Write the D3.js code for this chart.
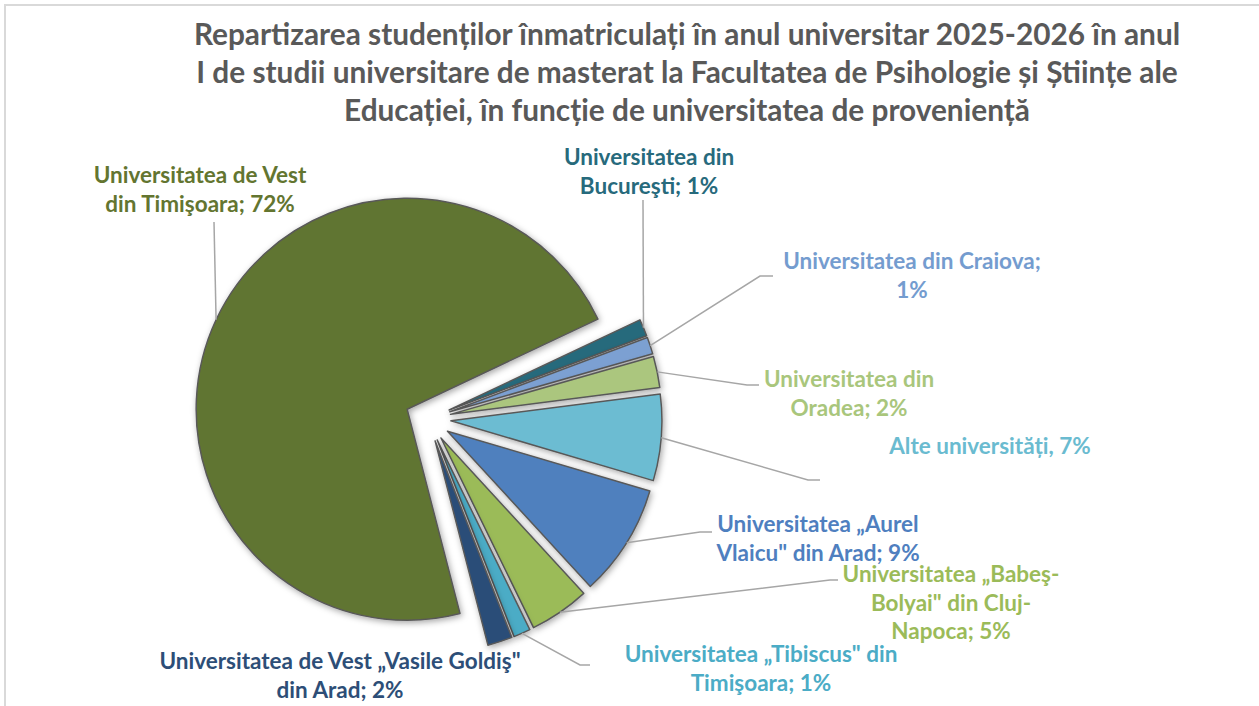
<!DOCTYPE html>
<html>
<head>
<meta charset="utf-8">
<script src="https://cdn.jsdelivr.net/npm/d3@7"></script>
<style>
  body { margin: 0; background: #fff; }
  svg { display: block; }
  text { font-family: Lato, "Open Sans", sans-serif; font-weight: bold; }
</style>
</head>
<body>
<svg width="1259" height="706"></svg>
<script>
// data (shares in %)
var universities = [
  "Universitatea de Vest din Timişoara",
  "Universitatea din Bucureşti",
  "Universitatea din Craiova",
  "Universitatea din Oradea",
  "Alte universități",
  "Universitatea „Aurel Vlaicu\" din Arad",
  "Universitatea „Babeş-Bolyai\" din Cluj-Napoca",
  "Universitatea „Tibiscus\" din Timişoara",
  "Universitatea de Vest „Vasile Goldiş\" din Arad"
];
var shares = [72.0, 1.3, 1.3, 2.4, 6.6, 8.6, 4.6, 1.3, 1.9];
var colors = ["#617430", "#266a7c", "#7ba0d2", "#abc67e", "#6cbcd2", "#4f80be", "#9bbb59", "#4bacc6", "#2c4e78"];
var labelColors = ["#637530", "#276a7c", "#749ccf", "#a9c67c", "#6abbd0", "#4f7fbf", "#9bbb59", "#4bacc6", "#2d4e77"];
// label lines, {p} gets the rounded share
var labelLines = [
  ["Universitatea de Vest", "din Timişoara; {p}"],
  ["Universitatea din", "Bucureşti; {p}"],
  ["Universitatea din Craiova;", "{p}"],
  ["Universitatea din", "Oradea; {p}"],
  ["Alte universități, {p}"],
  ["Universitatea „Aurel", "Vlaicu\" din Arad; {p}"],
  ["Universitatea „Babeş-", "Bolyai\" din Cluj-", "Napoca; {p}"],
  ["Universitatea „Tibiscus\" din", "Timişoara; {p}"],
  ["Universitatea de Vest „Vasile Goldiş\"", "din Arad; {p}"]
];
var titleLines = [
  "Repartizarea studenților înmatriculați în anul universitar 2025-2026 în anul",
  "I de studii universitare de masterat la Facultatea de Psihologie și Științe ale",
  "Educației, în funcție de universitatea de proveniență"
];

// layout
var cx = 428, cy = 419, R = 211, explode = 23;
var startDeg = 165.5;
var labelPos = [[200, 183], [649, 165], [912, 269], [849, 387], [990, 454], [818, 532], [951, 582], [761, 662], [340, 669]];
var leaderPts = [
  [[214, 222]],
  [[643, 200]],
  [[760, 276], [773, 276]],
  [[747, 385], [759, 385]],
  [[808, 480], [820, 480]],
  [[700, 532], [712, 532]],
  [[830, 580], [838, 580]],
  [[580, 665], [590, 665]],
  null
];
var lineH = 28.5;

var svg = d3.select("svg");

// chart border
svg.append("rect")
  .attr("x", 5).attr("y", 5)
  .attr("width", 1400).attr("height", 900)
  .attr("fill", "none")
  .attr("stroke", "#d9d9d9")
  .attr("stroke-width", 2);

var defs = svg.append("defs");
var f = defs.append("filter").attr("id", "shadow")
  .attr("x", "-20%").attr("y", "-20%").attr("width", "140%").attr("height", "140%");
f.append("feDropShadow")
  .attr("dx", 1.5).attr("dy", 2)
  .attr("stdDeviation", 3)
  .attr("flood-color", "#000")
  .attr("flood-opacity", 0.35);

// title
svg.append("g").selectAll("text")
  .data(titleLines)
  .enter().append("text")
  .attr("x", 687)
  .attr("y", (d, i) => 45 + i * 38)
  .attr("text-anchor", "middle")
  .attr("font-size", 29.8)
  .attr("fill", "#595959")
  .text(d => d);

var rad = Math.PI / 180;
var pie = d3.pie().sort(null)
  .startAngle(startDeg * rad)
  .endAngle(startDeg * rad + 2 * Math.PI);
var arc = d3.arc().innerRadius(0).outerRadius(R);
var arcs = pie(shares);

arcs.forEach(function (a) {
  a.mid = (a.startAngle + a.endAngle) / 2;
  a.ox = cx + explode * Math.sin(a.mid);
  a.oy = cy - explode * Math.cos(a.mid);
});

// slices
svg.append("g").selectAll("path")
  .data(arcs)
  .enter().append("path")
  .attr("transform", d => "translate(" + d.ox + "," + d.oy + ")")
  .attr("d", arc)
  .attr("fill", (d, i) => colors[i])
  .attr("stroke", "#595959")
  .attr("stroke-width", 1.5)
  .attr("stroke-linejoin", "round")
  .attr("filter", "url(#shadow)");

// leader lines
var line = d3.line();
svg.append("g").selectAll("path")
  .data(arcs.filter((d, i) => leaderPts[i]))
  .enter().append("path")
  .attr("d", function (d) {
    var p0 = [d.ox + R * Math.sin(d.mid), d.oy - R * Math.cos(d.mid)];
    return line([p0].concat(leaderPts[d.index]));
  })
  .attr("fill", "none")
  .attr("stroke", "#a6a6a6")
  .attr("stroke-width", 1.5);

// labels
var lbl = svg.append("g").selectAll("text")
  .data(arcs)
  .enter().append("text")
  .attr("text-anchor", "middle")
  .attr("font-size", 22.5)
  .attr("fill", (d, i) => labelColors[i]);

lbl.each(function (d, i) {
  var p = Math.round(d.data) + "%";
  var t = d3.select(this);
  labelLines[i].forEach(function (s, k) {
    t.append("tspan")
      .attr("x", labelPos[i][0])
      .attr("y", labelPos[i][1] + k * lineH)
      .text(s.replace("{p}", p));
  });
});
</script>
</body>
</html>
